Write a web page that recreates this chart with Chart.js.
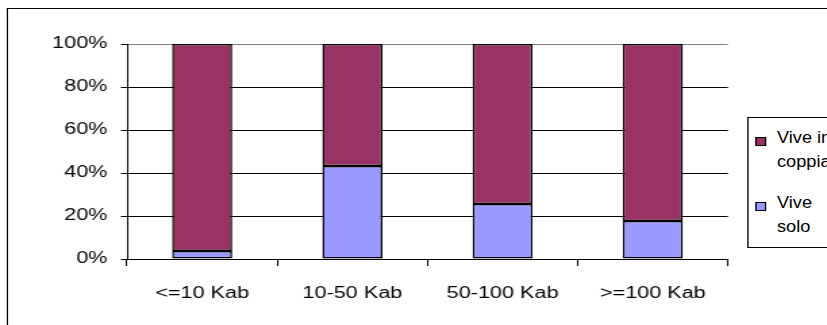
<!DOCTYPE html>
<html>
<head>
<meta charset="utf-8">
<script src="https://cdn.jsdelivr.net/npm/chart.js@4"></script>
<style>
  html, body { margin: 0; padding: 0; background: #fff; overflow: hidden; width: 827px; height: 325px; }
  /* the reference is stretched sideways, so the chart is drawn narrow and widened */
  #wrap { position: absolute; left: 0; top: 0; width: 612px; height: 325px;
          transform: scaleX(1.3513); transform-origin: 0 0; }
  #frame { position: absolute; left: 5px; top: 7.5px; width: 1000px; height: 1000px;
           border-left: 1.2px solid #000; border-top: 1.5px solid #000; }
  #c { position: absolute; left: 0; top: 0; }
  #legend { position: absolute; left: 553px; top: 117.3px; width: 100px; height: 129px;
            border: 1px solid #000; background: #fff;
            font-family: "Liberation Sans", Arial, sans-serif; font-size: 16px; color: #000; }
  .item { position: absolute; left: 0; width: 100px; }
  .item .box { position: absolute; left: 5px; top: 11px; width: 5.6px; height: 7px; border: 0.8px solid #000; }
  .item .txt { position: absolute; left: 20.5px; top: 0; width: 56px; line-height: 24px;
               transform: scaleX(0.84); transform-origin: 0 0; }
</style>
</head>
<body>
<div id="wrap">
  <div id="frame"></div>
  <canvas id="c" width="612" height="325"></canvas>
  <div id="legend"></div>
</div>
<script>
// share of people living alone / in a couple, by town size
const categories = ["<=10 Kab", "10-50 Kab", "50-100 Kab", ">=100 Kab"];
const viveSolo = [3.7, 43.3, 25.6, 17.7];
const viveInCoppia = [96.3, 56.7, 74.4, 82.3];
const seriesNames = ["Vive solo", "Vive in coppia"];
const seriesColors = ["#9999FF", "#993366"];
const yTickStep = 20;

Chart.defaults.font.family = '"Liberation Sans", Arial, sans-serif';
Chart.defaults.font.size = 16;
Chart.defaults.color = "#000";

const chart = new Chart(document.getElementById("c"), {
  type: "bar",
  data: {
    labels: categories,
    datasets: [
      { label: seriesNames[0], data: viveSolo, backgroundColor: seriesColors[0] },
      { label: seriesNames[1], data: viveInCoppia, backgroundColor: seriesColors[1] },
    ].map(d => ({
      ...d,
      borderColor: "#000",
      borderWidth: 1.5,
      borderSkipped: false,
      barPercentage: 0.4,
      categoryPercentage: 1.0,
    })),
  },
  options: {
    responsive: false,
    animation: false,
    layout: { padding: { top: 44, right: 73.3, bottom: 0, left: 0 } },
    plugins: { legend: { display: false }, tooltip: { enabled: false } },
    scales: {
      x: {
        stacked: true,
        offset: true,
        grid: {
          offset: true,
          drawOnChartArea: true,
          color: ctx => ctx.index === categories.length ? "#808080" : "rgba(0,0,0,0)",
          tickColor: ctx => ctx.index === categories.length ? "#808080" : "#000",
          tickLength: 7,
        },
        border: { color: "#000", width: 1 },
        ticks: { padding: 17.5, maxRotation: 0, autoSkip: false },
        afterFit: s => { s.height = 66; },
      },
      y: {
        stacked: true,
        min: 0,
        max: 100,
        grid: {
          color: ctx => ctx.tick && ctx.tick.value === 100 ? "#808080" : "#000",
          tickColor: "#000",
          tickLength: 4.5,
        },
        border: { color: "#000", width: 1 },
        ticks: { stepSize: yTickStep, padding: 10, callback: v => v + "%" },
        afterFit: s => { s.width = 94; },
      },
    },
  },
});

// legend: drawn as html so the labels can wrap like the original
function renderLegend() {
  const box = document.getElementById("legend");
  box.innerHTML = "";
  const ds = [...chart.data.datasets].reverse();
  ds.forEach((d, i) => {
    const item = document.createElement("div");
    item.className = "item";
    item.style.top = (7.5 + i * 65) + "px";
    item.innerHTML = `<span class="box" style="background:${d.backgroundColor}"></span>` +
      `<span class="txt">${d.label}</span>`;
    box.appendChild(item);
  });
}
renderLegend();
</script>
</body>
</html>
